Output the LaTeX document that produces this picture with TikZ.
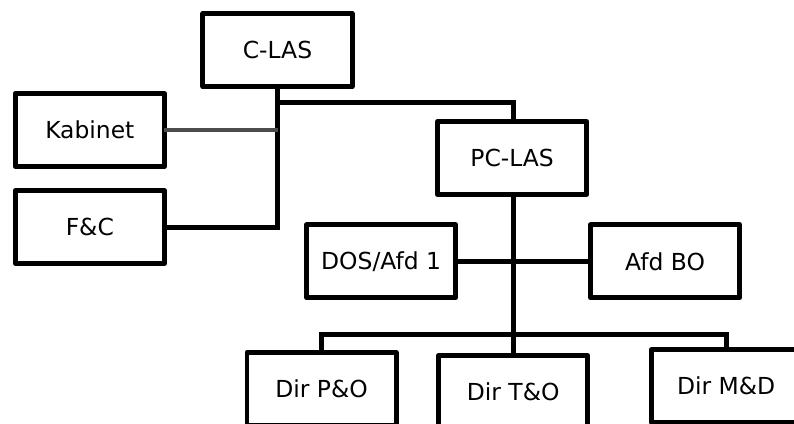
\documentclass[tikz,border=0pt]{standalone}
\usepackage{fontspec}
\setmainfont{DejaVu Sans}
\usepackage{tikz}
\usetikzlibrary{positioning}

\begin{document}
\begin{tikzpicture}[
        unit/.style={draw, line width=0.15cm, line join=round, outer sep=0pt,
                     minimum width=4.47cm, minimum height=2.19cm,
                     font=\fontsize{20}{24}\selectfont},
        link/.style={line width=0.15cm},
        side link/.style={line width=0.12cm, draw=black!70},
        on grid]
        % NODES
        % -----------------
        \clip (-8.325,1.5) rectangle (15.495,-11.19);
        
        \node[unit] (c_las) {C-LAS};
        
        \node[unit, below left=2.4cm and 5.63cm of c_las] (kabinet) {Kabinet};
        \node[unit, below=2.91cm of kabinet] (f_c) {F\&C};
        
        \node[unit, below right=3.24cm and 7.04cm of c_las] (pc_las) {PC-LAS};
        
        \node[unit, below left=3.1cm and 3.93cm of pc_las] (dos_afd) {DOS/Afd 1};
        \node[unit, below right=3.1cm and 4.59cm of pc_las] (afd_bo) {Afd BO};
        
        \node[unit, below=7.02cm of pc_las, xshift=0.03cm] (dir_to) {Dir T\&O};
        \node[unit, above left=0.09cm and 5.75cm of dir_to] (dir_po) {Dir P\&O};
        \node[unit, above right=0.18cm and 6.39cm of dir_to] (dir_md) {Dir M\&D};
        
        \coordinate[below=0.48cm of c_las.south] (c_split);
        \coordinate[above=0.63cm of dir_to.north] (dir_bus);
        
        % EDGES
        % -----------------
        \draw[link] (c_las.south) |- (f_c.east);
        \draw[side link] (kabinet.east) -- (kabinet.east -| c_las.south);
        \draw[link] (c_split) -| ([xshift=0.03cm]pc_las.north);
        
        \draw[link] ([xshift=0.03cm]pc_las.south) -- (dir_to.north);
        \draw[link] (dos_afd.east) -- (afd_bo.west);
        \draw[link] (dir_po.north) |- (dir_bus) -| (dir_md.north);
  
    \end{tikzpicture}
\end{document}
